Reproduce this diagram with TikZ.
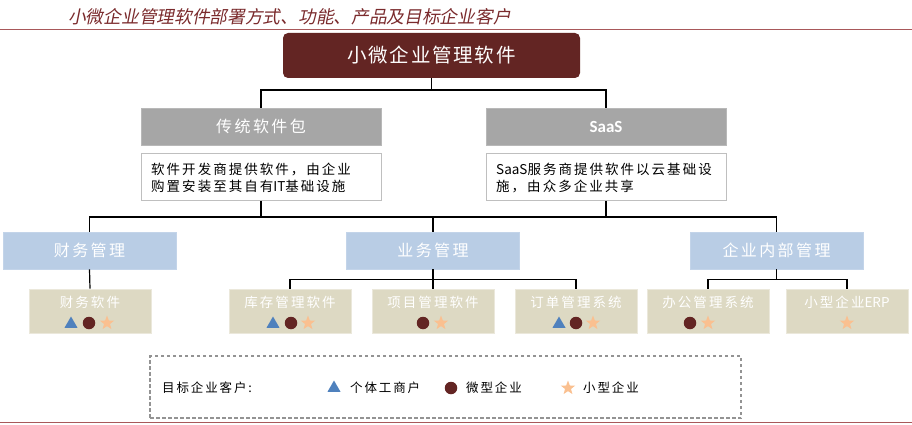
\documentclass[tikz,border=0pt]{standalone}
\usepackage{fontspec}
\usetikzlibrary{shapes.geometric,calc}
\newfontfamily\cjk{Noto Sans CJK SC}
\newfontfamily\cjksp[LetterSpace=15]{Noto Sans CJK SC}
\newfontfamily\cjkspa[LetterSpace=9]{Noto Sans CJK SC}
\newfontfamily\cjkti[FakeSlant=0.2]{Noto Sans CJK SC}
\newfontfamily\carlito{Carlito}
\definecolor{maroon}{HTML}{632523}
\definecolor{graybox}{HTML}{A6A6A6}
\definecolor{descline}{HTML}{BFBFBF}
\definecolor{bluebox}{HTML}{B9CDE5}
\definecolor{tanbox}{HTML}{DDD9C3}
\definecolor{tri}{HTML}{4F81BD}
\definecolor{staro}{HTML}{FAC090}
\definecolor{rule}{HTML}{A8585A}
\definecolor{titlec}{HTML}{7A2A2C}
\tikzset{
  conn/.style={draw=black,line width=1.2pt},
  topbox/.style={fill=maroon,rounded corners=5pt,minimum width=297pt,minimum height=45pt,text=white,font=\cjkspa\fontsize{19.5}{24}\selectfont},
  greybox/.style={fill=graybox,draw=graybox!80!white,line width=0.6pt,minimum width=240pt,minimum height=37pt,text=white,font=\cjksp\fontsize{16}{20}\selectfont},
  descbox/.style={draw=descline,line width=0.8pt,fill=white,minimum width=240pt,minimum height=47pt},
  desctext/.style={anchor=west,align=left,inner sep=0pt,font=\cjksp\fontsize{13.5}{17}\selectfont},
  bluebx/.style={fill=bluebox,draw=bluebox!85!white,line width=0.6pt,minimum width=173pt,minimum height=37pt,text=white,font=\cjksp\fontsize{16}{20}\selectfont},
  tanbx/.style={fill=tanbox,draw=tanbox!60!white,line width=0.6pt,minimum width=122pt,minimum height=44pt},
  tantext/.style={text=white,inner sep=0pt,font=\cjksp\fontsize{13.5}{16}\selectfont},
  symtri/.style={regular polygon,regular polygon sides=3,fill=tri,inner sep=0pt,minimum size=15pt},
  symcirc/.style={circle,fill=maroon,inner sep=0pt,minimum size=12.5pt},
  symstar/.style={star,star points=5,star point ratio=2.4,fill=staro,inner sep=0pt,minimum size=15pt},
  legtext/.style={anchor=west,inner sep=0pt,font=\cjksp\fontsize{12.5}{15}\selectfont},
}
\begin{document}
\begin{tikzpicture}[x=1pt,y=-1pt]
\useasboundingbox (0,0) rectangle (912,425);
% title and rules
\node[anchor=west,inner sep=0pt,text=titlec,font=\cjkti\fontsize{17.7}{20}\selectfont] (title) at (68,17) {小微企业管理软件部署方式、功能、产品及目标企业客户};
\coordinate (r1a) at (0,29.5); \coordinate (r1b) at (912,29.5);
\coordinate (r2a) at (0,422.5); \coordinate (r2b) at (912,422.5);
\draw[rule,line width=1pt] (r1a) -- (r1b);
\draw[rule,line width=1pt] (r2a) -- (r2b);
% boxes
\node[topbox] (top) at (431.5,55.5) {小微企业管理软件};
\node[greybox] (trad) at (261,126.5) {传统软件包};
\node[greybox,font=\carlito\bfseries\fontsize{17}{20}\selectfont] (saas) at (606,126.5) {SaaS};
\node[descbox] (tradd) at (261,177) {};
\node[descbox] (saasd) at (606,177) {};
\node[desctext] (tradt) at (151,178) {软件开发商提供软件，由企业\\购置安装至其自有{\cjk IT}基础设施};
\node[desctext] (saast) at (496,178) {{\cjk SaaS}服务商提供软件以云基础设\\施，由众多企业共享};
\node[bluebx] (fin) at (89.5,250.5) {财务管理};
\node[bluebx] (biz) at (433,250.5) {业务管理};
\node[bluebx] (ent) at (776.5,250.5) {企业内部管理};
\node[tanbx] (fs) at (90,311) {};
\node[tanbx] (kc) at (290,311) {};
\node[tanbx] (xm) at (433,311) {};
\node[tanbx] (dd) at (576,311) {};
\node[tanbx] (bg) at (708,311) {};
\node[tanbx] (erp) at (847,311) {};
\node[tantext] (fst) at (90,302) {财务软件};
\node[tantext] (kct) at (290,302) {库存管理软件};
\node[tantext] (xmt) at (433,302) {项目管理软件};
\node[tantext] (ddt) at (576,302) {订单管理系统};
\node[tantext] (bgt) at (708,302) {办公管理系统};
\node[tantext] (erpt) at (847,302) {小型企业{\cjk ERP}};
% symbols
\node[symtri] (s1) at (71,324) {};
\node[symcirc] (s2) at (89,323) {};
\node[symstar] (s3) at (107,323) {};
\node[symtri] (s4) at (273,324) {};
\node[symcirc] (s5) at (291,323) {};
\node[symstar] (s6) at (308,323) {};
\node[symcirc] (s7) at (423,323) {};
\node[symstar] (s8) at (441,323) {};
\node[symtri] (s9) at (559,324) {};
\node[symcirc] (s10) at (576,323) {};
\node[symstar] (s11) at (593,323) {};
\node[symcirc] (s12) at (690,323) {};
\node[symstar] (s13) at (708,323) {};
\node[symstar] (s14) at (847,323) {};
% connectors
\coordinate (t1) at (431.5,90);
\draw[conn] (top.south) -- (t1);
\draw[conn] (trad.north) |- (t1) -| (saas.north);
\coordinate (busL) at (89.5,217);
\coordinate (busR) at (776.5,217);
\draw[conn] (fin.north) -- (busL) -- (busR) -- (ent.north);
\draw[conn] (tradd.south) -- (tradd.south |- busL);
\draw[conn] (saasd.south) -- (saasd.south |- busL);
\draw[conn] (biz.north) -- (biz.north |- busL);
\draw[conn] (fin.south) -- (fs.north);
\coordinate (bz) at (433,279.5);
\draw[conn] (biz.south) -- (xm.north);
\draw[conn] (kc.north) |- (bz) -| (dd.north);
\coordinate (en) at (776.5,279.5);
\draw[conn] (ent.south) -- (en);
\draw[conn] (bg.north) |- (en) -| (erp.north);
% legend
\node[draw=gray!85,dashed,dash pattern=on 3.5pt off 2.5pt,line width=1.2pt,minimum width=591pt,minimum height=62pt] (legend) at (445.5,387) {};
\node[legtext] (lt) at (162,388) {目标企业客户:};
\node[symtri] (l1) at (334,388) {};
\node[legtext] (l1t) at (350,388) {个体工商户};
\node[symcirc] (l2) at (451,388) {};
\node[legtext] (l2t) at (466,388) {微型企业};
\node[symstar] (l3) at (568,388) {};
\node[legtext] (l3t) at (583,388) {小型企业};
\end{tikzpicture}
\end{document}
